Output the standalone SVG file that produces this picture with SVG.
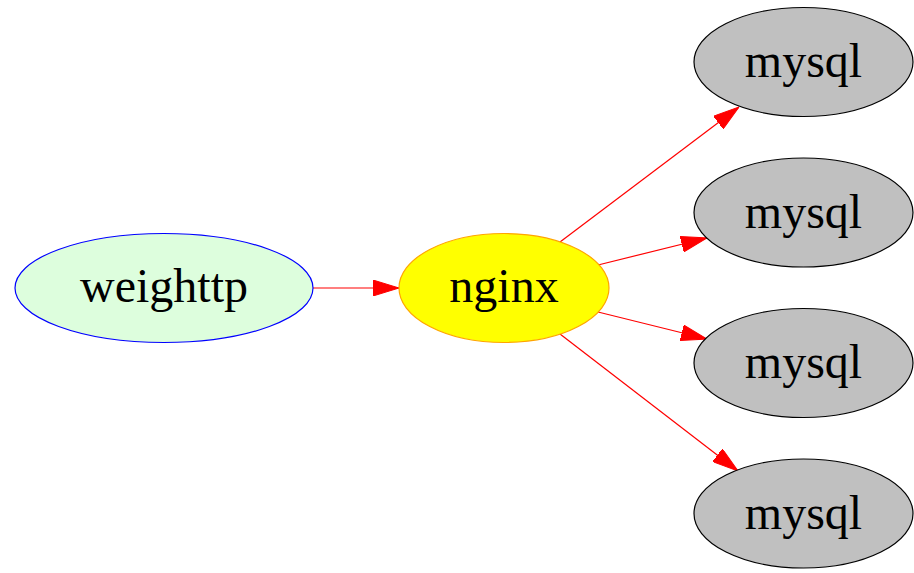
<svg xmlns="http://www.w3.org/2000/svg" width="914" height="573" viewBox="0 0 914 573">
<style>
text{font-family:"Liberation Serif","Times New Roman",serif;font-size:48px;text-anchor:middle;fill:#000}
.mysql ellipse{fill:#c0c0c0;stroke:#000;stroke-width:1.2}
.edge{stroke:#ff0000;stroke-width:1.2;fill:none;marker-end:url(#arr)}
</style>
<defs>
<marker id="arr" viewBox="0 0 26 16" refX="26" refY="8" markerWidth="26" markerHeight="16" markerUnits="userSpaceOnUse" orient="auto">
<path d="M0,0 L26,8 L0,16 Z" fill="#ff0000" stroke="#ff0000" stroke-width="1"/>
</marker>
</defs>
<rect width="914" height="573" fill="#fff"/>
<g id="connectors">
<line class="edge" x1="313" y1="288" x2="399" y2="288"/>
<line class="edge" x1="560" y1="242" x2="739" y2="107"/>
<line class="edge" x1="598" y1="265" x2="707" y2="238"/>
<line class="edge" x1="598" y1="312" x2="707" y2="339"/>
<line class="edge" x1="560" y1="334" x2="738" y2="471"/>
</g>
<g id="weighttp">
<ellipse cx="164" cy="288" rx="149" ry="54.5" fill="#ddfedd" stroke="#0000ff" stroke-width="1.2"/>
<text x="164" y="302">weighttp</text>
</g>
<g id="nginx">
<ellipse cx="504" cy="288" rx="105" ry="54.5" fill="#ffff00" stroke="#ffa500" stroke-width="1.2"/>
<text x="504" y="302">nginx</text>
</g>
<g id="mysql1" class="mysql">
<ellipse cx="803.5" cy="62" rx="109.5" ry="54.5"/>
<text x="803.5" y="77">mysql</text>
</g>
<g id="mysql2" class="mysql">
<ellipse cx="803.5" cy="212.5" rx="109.5" ry="54.5"/>
<text x="803.5" y="227.5">mysql</text>
</g>
<g id="mysql3" class="mysql">
<ellipse cx="803.5" cy="363" rx="109.5" ry="54.5"/>
<text x="803.5" y="378">mysql</text>
</g>
<g id="mysql4" class="mysql">
<ellipse cx="803.5" cy="513.5" rx="109.5" ry="54.5"/>
<text x="803.5" y="528.5">mysql</text>
</g>
</svg>
